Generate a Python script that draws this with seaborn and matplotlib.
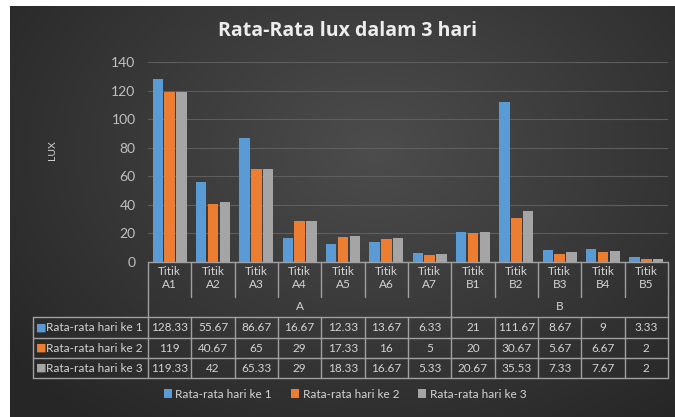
import numpy as np
import pandas as pd
import seaborn as sns
import matplotlib.pyplot as plt
from matplotlib.transforms import blended_transform_factory

# data
titik = ["A1", "A2", "A3", "A4", "A5", "A6", "A7", "B1", "B2", "B3", "B4", "B5"]
groups = ["A", "B"]
group_sizes = [7, 5]
series = ["Rata-rata hari ke 1", "Rata-rata hari ke 2", "Rata-rata hari ke 3"]
hari1 = [128.33, 55.67, 86.67, 16.67, 12.33, 13.67, 6.33, 21, 111.67, 8.67, 9, 3.33]
hari2 = [119, 40.67, 65, 29, 17.33, 16, 5, 20, 30.67, 5.67, 6.67, 2]
hari3 = [119.33, 42, 65.33, 29, 18.33, 16.67, 5.33, 20.67, 35.53, 7.33, 7.67, 2]
colors = ["#5B9BD5", "#ED7D31", "#A5A5A5"]

df = pd.DataFrame({"titik": titik * 3,
                   "seri": sum([[s] * len(titik) for s in series], []),
                   "lux": hari1 + hari2 + hari3})

sns.set_theme(style="dark")
plt.rcParams["font.family"] = ["Lato", "DejaVu Sans"]
txt = "#d4d4d4"
line_c = "#a0a0a0"

W, H = 675, 417
fig = plt.figure(figsize=(6.75, 4.17), dpi=100, facecolor="white")

# dark radial background
bg = fig.add_axes([10 / W, 0, 665 / W, 411 / H])
yy, xx = np.mgrid[0:1:206j, 0:1:332j]
rad = np.sqrt(((xx - 0.55) / 0.75) ** 2 + ((yy - 0.35) / 0.9) ** 2)
shade = np.clip(0.30 - 0.16 * rad, 0.15, 0.30)
bg.imshow(np.dstack([shade] * 3), aspect="auto", interpolation="bilinear")
bg.axis("off")

# main bar axes
ax = fig.add_axes([148 / W, 1 - 262 / H, 520 / W, 200 / H])
ax.set_facecolor("none")
sns.barplot(data=df, x="titik", y="lux", hue="seri", palette=colors,
            width=0.82, gap=0.12, ax=ax, legend=True, linewidth=0, saturation=1)
ax.set_ylim(0, 140)
ax.set_xlim(-0.5, len(titik) - 0.5)
ax.set_yticks(range(0, 141, 20))
ax.tick_params(axis="y", colors="#c0c0c0", labelsize=10, length=0, pad=9)
ax.set_xticks(range(len(titik)))
ax.set_xticklabels(["Titik\n" + t for t in titik], color=txt, fontsize=8.5, linespacing=1.2)
ax.tick_params(axis="x", length=0, pad=3)
ax.grid(axis="y", color="#5e5e5e", lw=0.8)
ax.set_axisbelow(True)
for s in ax.spines.values():
    s.set_visible(False)
ax.set_xlabel("")
ax.set_ylabel("")
handles, labels = ax.get_legend_handles_labels()
ax.get_legend().remove()

fig.text(52 / W, 1 - 150 / H, "LUX", rotation=90, color=txt, fontsize=7.5,
         ha="center", va="center")
fig.text(347 / W, 1 - 31 / H, "Rata-Rata lux dalam 3 hari", color="#ededed",
         fontsize=14, fontweight="bold", family=["Open Sans", "DejaVu Sans"],
         ha="center", va="center")

# data table under the axis
tr = blended_transform_factory(ax.transData, fig.transFigure)
def fy(p):
    return 1 - p / H

def vline(x, y0, y1):
    ax.plot([x, x], [fy(y0), fy(y1)], color=line_c, lw=1, transform=tr, clip_on=False)

n = len(titik)
ax.plot([-0.5, n - 0.5], [fy(262), fy(262)], color=line_c, lw=1, transform=tr, clip_on=False)
for i in range(n + 1):
    vline(i - 0.5, 262, 297)
start = 0
for g, size in zip(groups, group_sizes):
    vline(start - 0.5, 297, 317)
    ax.text(start + (size - 1) / 2, fy(307), g, color=txt, fontsize=8.5,
            ha="center", va="center", transform=tr)
    start += size
vline(n - 0.5, 297, 317)

rows = [hari1, hari2, hari3]
row_y = [317, 338, 358, 378]
for y in row_y:
    ax.plot([33 / W, 1 - 7 / W], [fy(y), fy(y)], color=line_c, lw=1,
            transform=fig.transFigure, clip_on=False)
ax.plot([33 / W, 33 / W], [fy(317), fy(378)], color=line_c, lw=1,
        transform=fig.transFigure, clip_on=False)
for i in range(n + 1):
    vline(i - 0.5, 317, 378)
for r, (vals, name, c) in enumerate(zip(rows, series, colors)):
    yc = fy((row_y[r] + row_y[r + 1]) / 2)
    fig.text(36 / W, yc, "\u25A0", color=c, fontsize=8, ha="left", va="center",
             family="DejaVu Sans")
    fig.text(46 / W, yc, name, color=txt, fontsize=8.5, ha="left", va="center")
    for i, v in enumerate(vals):
        ax.text(i, yc, f"{v:g}", color=txt, fontsize=8.5, ha="center",
                va="center", transform=tr)

fig.legend(handles, labels, loc="center", bbox_to_anchor=(345 / W, fy(394)),
           ncol=3, frameon=False, fontsize=8.5, labelcolor=txt,
           handlelength=0.7, handleheight=0.7, handletextpad=0.3, columnspacing=1.6)

fig.savefig("out.png", dpi=100, facecolor="white")
